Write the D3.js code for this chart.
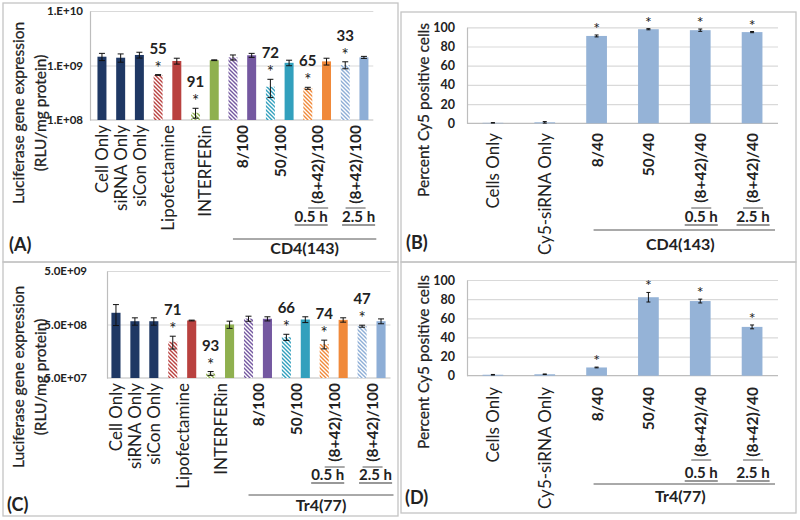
<!DOCTYPE html>
<html><head><meta charset="utf-8">
<script src="https://cdn.jsdelivr.net/npm/d3@7/dist/d3.min.js"></script>
<style>
body{margin:0;background:#fff}
svg{display:block}
text{font-family:Lato,"Open Sans",sans-serif;fill:#222}
</style>
</head><body>
<svg id="chart" width="800" height="520"></svg>
<script>
// ================= DATA =================
// Luciferase panels (A, C): categories, each with an optional hatched (siRNA) bar and a solid bar
const lucCategories = ["Cell Only","siRNA Only","siCon Only","Lipofectamine","INTERFERin","8/100","50/100","(8+42)/100","(8+42)/100"];
const lucTimes = ["","","","","","","","0.5 h","2.5 h"];
const lucBoldCats = [false,false,false,false,false,true,true,true,true];
const lucGroupStart = 5; // categories from here belong to the polymer group

// Panel A – CD4(143)
const aSolid    = [1.45e9,1.39e9,1.56e9,1.21e9,1.25e9,1.54e9,1.12e9,1.19e9,1.41e9];
const aSolidErr = [0.22e9,0.24e9,0.19e9,0.15e9,0.02e9,0.13e9,0.13e9,0.17e9,0.06e9];
const aHatch    = [null,null,null,6.7e8,1.36e8,1.41e9,4.08e8,3.82e8,1.02e9];
const aHatchErr = [null,null,null,0.1e8,0.28e8,0.15e9,1.5e8,0.16e8,0.15e9];
const aKnock    = ["","","","55","91","","72","65","33"];
const aTicks = [1e8,1e9,1e10];
const aTickLabels = ["1.E+08","1.E+09","1.E+10"];
const aGroup = "CD4(143)";

// Panel C – Tr4(77)
const cSolid    = [8.28e8,5.76e8,5.76e8,5.94e8,5.0e8,6.4e8,6.2e8,6.1e8,5.76e8];
const cSolidErr = [3.5e8,0.9e8,0.9e8,0.1e8,0.77e8,0.57e8,0.77e8,0.57e8,0.6e8];
const cHatch    = [null,null,null,2.38e8,6.1e7,6.45e8,2.9e8,2.15e8,4.65e8];
const cHatchErr = [null,null,null,0.64e8,0.5e7,0.7e8,0.38e8,0.4e8,0.2e8];
const cKnock    = ["","","","71","93","","66","74","47"];
const cTicks = [5e7,5e8,5e9];
const cTickLabels = ["5.0E+07","5.0E+08","5.0E+09"];
const cGroup = "Tr4(77)";

// Cy5 uptake panels (B, D)
const cyCategories = ["Cells Only","Cy5-siRNA Only","8/40","50/40","(8+42)/40","(8+42)/40"];
const cyTimes = ["","","","","0.5 h","2.5 h"];
const cyBold = [false,false,true,true,true,true];
const cyGroupStart = 2;
const cyTicks = [0,20,40,60,80,100];
const bValues = [0.5,1,91,98,97,95];
const bErr    = [0.2,0.8,1,0.6,1.2,0.6];
const bStar   = [false,false,true,true,true,true];
const dValues = [1,1.5,8.6,82,78,51];
const dErr    = [0.3,0.3,0.4,5,2,2];
const dStar   = [false,false,true,true,true,true];

// ================= STYLE =================
const catColors = ["#1f3864","#1f3864","#1f3864","#b9413f","#8fb04f","#7458a0","#32a0bd","#f0893a","#8eaed6"];
const cyColor = "#95b3d7";
const boxColor = "#c4c4c4";

const svg = d3.select("#chart");
const defs = svg.append("defs");
catColors.forEach((c,i)=>{
  const p = defs.append("pattern").attr("id","h"+i).attr("patternUnits","userSpaceOnUse")
    .attr("width",4).attr("height",4);
  p.append("rect").attr("width",4).attr("height",4).attr("fill","#fff");
  p.append("path").attr("d","M-1,-1L5,5M-1,3L1,5M3,-1L5,1")
    .attr("stroke",c).attr("stroke-width",1.4);
});

function box(x0,y0,x1,y1){
  svg.append("rect").attr("x",x0).attr("y",y0).attr("width",x1-x0).attr("height",y1-y0)
    .attr("fill","none").attr("stroke",boxColor).attr("stroke-width",1.3);
}
function vTitle(lines, xs, cy, size){
  lines.forEach((t,i)=>{
    svg.append("text").attr("transform",`translate(${xs[i]},${cy}) rotate(-90)`)
      .attr("text-anchor","middle").attr("dominant-baseline","central")
      .style("font-size",size+"px").style("stroke","#222").style("stroke-width",0.25).text(t);
  });
}
function underlined(x, baseline, t, size){
  const tx = svg.append("text").attr("x",x).attr("y",baseline).attr("text-anchor","middle")
    .style("font-size",size+"px").style("font-weight","bold").text(t);
  const w = tx.node().getComputedTextLength();
  svg.append("line").attr("x1",x-w/2).attr("x2",x+w/2).attr("y1",baseline+3).attr("y2",baseline+3)
    .attr("stroke","#333").attr("stroke-width",1.2);
}
function rotLabel(x, top, t, size, bold){
  svg.append("text").attr("transform",`translate(${x},${top}) rotate(-90)`)
    .attr("text-anchor","end").attr("dominant-baseline","central")
    .style("font-size",size+"px").style("font-weight",bold?"bold":"normal").text(t);
}
function errBar(x, y1, y2, cap){
  const g = svg.append("g").attr("stroke","#111").attr("stroke-width",1);
  g.append("line").attr("x1",x).attr("x2",x).attr("y1",y1).attr("y2",y2);
  g.append("line").attr("x1",x-cap).attr("x2",x+cap).attr("y1",y1).attr("y2",y1);
  g.append("line").attr("x1",x-cap).attr("x2",x+cap).attr("y1",y2).attr("y2",y2);
}

function drawLuc(cfg){
  const {solid, solidErr, hatch, hatchErr, knock} = cfg;
  const bars = [];
  lucCategories.forEach((c,i)=>{
    if(hatch[i]!=null) bars.push({cat:i, hatch:true, v:hatch[i], e:hatchErr[i], k:knock[i]});
    bars.push({cat:i, hatch:false, v:solid[i], e:solidErr[i], k:""});
  });
  bars.forEach((b,i)=>b.id=i);
  const x = d3.scaleBand().domain(bars.map(b=>b.id)).range(cfg.xRange).paddingInner(0.52).paddingOuter(0.26);
  const y = d3.scaleLog().domain(cfg.domain).range(cfg.yRange);
  const right = cfg.xRange[1];
  svg.append("g").attr("transform",`translate(${cfg.axisX},0)`)
    .call(d3.axisLeft(y).tickValues(cfg.ticks.slice(1)).tickSize(-(right-cfg.axisX)).tickFormat(""))
    .call(g=>g.select(".domain").remove())
    .call(g=>g.selectAll("line").attr("stroke","#d9d9d9").attr("stroke-width",1.2));
  svg.append("g").attr("transform",`translate(${cfg.axisX},0)`)
    .call(d3.axisLeft(y).tickValues(cfg.ticks).tickFormat((d,i)=>cfg.tickLabels[i]).tickSize(0).tickPadding(cfg.axisX-cfg.tickX))
    .call(g=>g.select(".domain").attr("stroke","#bdbdbd").attr("stroke-width",1.2))
    .call(g=>g.selectAll("text").style("font-size","11.5px").style("font-weight","bold").style("font-family","Lato,sans-serif").attr("fill","#333"));
  svg.append("line").attr("x1",cfg.axisX).attr("x2",right).attr("y1",y(cfg.domain[0])).attr("y2",y(cfg.domain[0]))
    .attr("stroke","#bdbdbd").attr("stroke-width",1.2);
  svg.append("g").selectAll("rect").data(bars).join("rect")
    .attr("x",d=>x(d.id)).attr("width",x.bandwidth())
    .attr("y",d=>y(d.v)).attr("height",d=>y(cfg.domain[0])-y(d.v))
    .attr("fill",d=>d.hatch?`url(#h${d.cat})`:catColors[d.cat]);
  bars.forEach(d=>{
    const cx = x(d.id)+x.bandwidth()/2;
    const top = y(d.v+d.e), bot = y(Math.max(d.v-d.e, cfg.domain[0]));
    errBar(cx, top, bot, 3);
    if(d.k){
      svg.append("text").attr("x",cx).attr("y",top-1).attr("text-anchor","middle")
        .style("font-size","17px").text("*");
      svg.append("text").attr("x",cx).attr("y",top-21).attr("text-anchor","middle")
        .style("font-size","15px").style("font-weight","bold").text(d.k);
    }
  });
  const centers = lucCategories.map((c,i)=>d3.mean(bars.filter(b=>b.cat===i), b=>x(b.id)+x.bandwidth()/2));
  let t = 0;
  lucCategories.forEach((c,i)=>{
    rotLabel(centers[i], cfg.labelTop, c, lucBoldCats[i]?15.5:17, lucBoldCats[i]);
    if(lucTimes[i]){
      svg.append("line").attr("x1",centers[i]-9).attr("x2",centers[i]+11).attr("y1",cfg.timeLineY).attr("y2",cfg.timeLineY)
        .attr("stroke","#555").attr("stroke-width",1);
      underlined(centers[i]+(t===0?-6:4), cfg.timeBase, lucTimes[i], 15);
      t++;
    }
  });
  const gStart = x(bars.find(b=>b.cat===lucGroupStart).id)+x.bandwidth()/2;
  const gEnd = right+3;
  svg.append("line").attr("x1",gStart).attr("x2",gEnd).attr("y1",cfg.groupY).attr("y2",cfg.groupY)
    .attr("stroke","#555").attr("stroke-width",1);
  svg.append("text").attr("x",(gStart+gEnd)/2).attr("y",cfg.groupBase).attr("text-anchor","middle")
    .style("font-size","16px").style("font-weight","bold").text(cfg.group);
  vTitle(["Luciferase gene expression","(RLU/mg protein)"], [18,40], cfg.titleCy, 15.5);
  svg.append("text").attr("x",cfg.panelPos[0]).attr("y",cfg.panelPos[1])
    .style("font-size","18px").style("font-weight","bold").text(cfg.panel);
}

function drawCy(cfg){
  const {values, err, star} = cfg;
  const x = d3.scaleBand().domain(cyCategories.map((c,i)=>i)).range(cfg.xRange).paddingInner(0.6).paddingOuter(0.3);
  const y = d3.scaleLinear().domain([0,100]).range(cfg.yRange);
  const right = cfg.xRange[1];
  svg.append("g").attr("transform",`translate(${cfg.axisX},0)`)
    .call(d3.axisLeft(y).tickValues(cyTicks.slice(1)).tickSize(-(right-cfg.axisX)).tickFormat(""))
    .call(g=>g.select(".domain").remove())
    .call(g=>g.selectAll("line").attr("stroke","#d9d9d9").attr("stroke-width",1.2));
  svg.append("g").attr("transform",`translate(${cfg.axisX},0)`)
    .call(d3.axisLeft(y).tickValues(cyTicks).tickSize(0).tickPadding(cfg.axisX-cfg.tickX))
    .call(g=>g.select(".domain").attr("stroke","#bdbdbd").attr("stroke-width",1.2))
    .call(g=>g.selectAll("text").style("font-size","12.5px").style("font-weight","bold").style("font-family","Lato,sans-serif").attr("fill","#222"));
  svg.append("line").attr("x1",cfg.axisX).attr("x2",right).attr("y1",y(0)).attr("y2",y(0))
    .attr("stroke","#bdbdbd").attr("stroke-width",1.2);
  svg.append("g").selectAll("rect").data(values).join("rect")
    .attr("x",(d,i)=>x(i)).attr("width",x.bandwidth())
    .attr("y",d=>y(d)).attr("height",d=>y(0)-y(d)).attr("fill",cyColor);
  values.forEach((v,i)=>{
    const cx = x(i)+x.bandwidth()/2;
    const top = y(v+err[i]);
    errBar(cx, top, y(Math.max(0,v-err[i])), 2);
    if(star[i]) svg.append("text").attr("x",cx).attr("y",top-1).attr("text-anchor","middle")
      .style("font-size","16px").text("*");
    rotLabel(cx, cfg.labelTop, cyCategories[i], cyBold[i]?15.5:17, cyBold[i]);
    if(cyTimes[i]){
      svg.append("line").attr("x1",cx-9).attr("x2",cx+11).attr("y1",cfg.timeLineY).attr("y2",cfg.timeLineY)
        .attr("stroke","#555").attr("stroke-width",1);
      underlined(cx+1, cfg.timeBase, cyTimes[i], 15);
    }
  });
  const gStart = x(cyGroupStart)+x.bandwidth()/2-3, gEnd = right-3;
  svg.append("line").attr("x1",gStart).attr("x2",gEnd).attr("y1",cfg.groupY).attr("y2",cfg.groupY)
    .attr("stroke","#555").attr("stroke-width",1);
  svg.append("text").attr("x",(gStart+gEnd)/2-4).attr("y",cfg.groupBase).attr("text-anchor","middle")
    .style("font-size","16px").style("font-weight","bold").text(cfg.group);
  vTitle(["Percent Cy5 positive cells"], [423], cfg.titleCy, 15.5);
  svg.append("text").attr("x",cfg.panelPos[0]).attr("y",cfg.panelPos[1])
    .style("font-size","18px").style("font-weight","bold").text(cfg.panel);
}

box(3,3,398,262);
box(3,262,398,516);
box(401,12,796,262);
box(401,262,796,513);

drawLuc({solid:aSolid, solidErr:aSolidErr, hatch:aHatch, hatchErr:aHatchErr, knock:aKnock,
  ticks:aTicks, tickLabels:aTickLabels, domain:[1e8,1e10], yRange:[120,11],
  axisX:90, tickX:83, xRange:[92.6,373.3], labelTop:125, timeLineY:208, timeBase:222,
  groupY:239, groupBase:254, group:aGroup, titleCy:113, panel:"(A)", panelPos:[9,251]});

drawLuc({solid:cSolid, solidErr:cSolidErr, hatch:cHatch, hatchErr:cHatchErr, knock:cKnock,
  ticks:cTicks, tickLabels:cTickLabels, domain:[5e7,5e9], yRange:[378,271],
  axisX:107, tickX:87, xRange:[106.5,390.5], labelTop:383, timeLineY:467, timeBase:480,
  groupY:495, groupBase:511, group:cGroup, titleCy:377, panel:"(C)", panelPos:[7,511]});

drawCy({values:bValues, err:bErr, star:bStar, xRange:[467,778], yRange:[123.3,27.3],
  axisX:467, tickX:455, labelTop:133, timeLineY:208, timeBase:222, groupY:230, groupBase:250,
  group:aGroup, titleCy:110, panel:"(B)", panelPos:[406,249]});

drawCy({values:dValues, err:dErr, star:dStar, xRange:[467,778], yRange:[375.7,280],
  axisX:467, tickX:455, labelTop:387, timeLineY:460, timeBase:478, groupY:484, groupBase:502,
  group:cGroup, titleCy:362, panel:"(D)", panelPos:[405,504]});
</script>
</body></html>
